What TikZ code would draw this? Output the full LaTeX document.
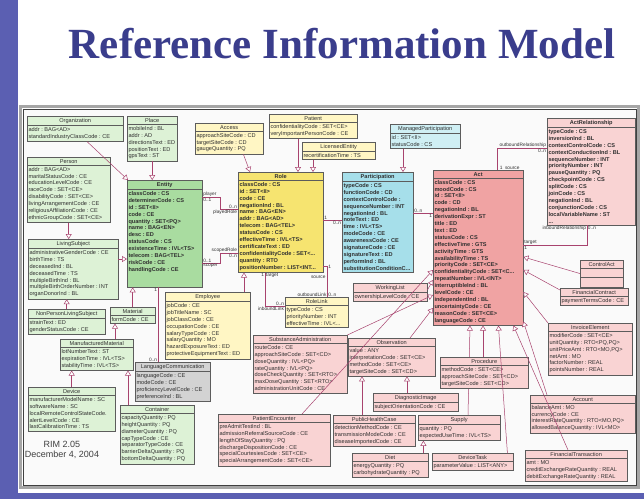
\documentclass[tikz,border=0pt]{standalone}
\usepackage{fontspec}
\setmainfont{Liberation Sans}
\newfontfamily\titlefont{Liberation Serif}
\usetikzlibrary{shapes.multipart,arrows.meta}
\pgfdeclarelayer{background}
\pgfsetlayers{background,main}

\definecolor{titleblue}{HTML}{3A3D8C}
\definecolor{barblue}{HTML}{5B5FB2}
\definecolor{boxline}{HTML}{5C5C5C}
\definecolor{txt}{HTML}{303030}
\definecolor{linkc}{HTML}{A8436E}
\definecolor{entfill}{HTML}{DDF2D6}
\definecolor{entdark}{HTML}{A9DCA0}
\definecolor{rolefill}{HTML}{FFF6C4}
\definecolor{roledark}{HTML}{F6E470}
\definecolor{partfill}{HTML}{CFEFF4}
\definecolor{partdark}{HTML}{A6DFEA}
\definecolor{actfill}{HTML}{F9D3D3}
\definecolor{actdark}{HTML}{F0A3A3}
\definecolor{greyfill}{HTML}{D3D3D3}

\tikzset{
  cls/.style={rectangle split, rectangle split parts=2,
    rectangle split part align={center,left}, draw=boxline, line width=0.4pt,
    anchor=north west, align=left, inner xsep=1.3pt, inner ysep=1.8pt,
    minimum width=#1, font=\fontsize{5.6}{6.9}\selectfont, text=txt},
  ent/.style={cls=#1, fill=entfill},
  rol/.style={cls=#1, fill=rolefill},
  prt/.style={cls=#1, fill=partfill},
  act/.style={cls=#1, fill=actfill},
  core/.style={font=\fontsize{5.6}{6.9}\selectfont\bfseries},
  assoc/.style={draw=linkc, line width=0.5pt},
  gen/.style={draw=linkc, line width=0.5pt, -{Triangle[length=5pt, width=6pt, fill=white]}},
  mult/.style={font=\fontsize{4.8}{5}\selectfont, inner sep=0.7pt, text=txt}
}

\begin{document}
\begin{tikzpicture}[x=1pt,y=-1pt]
\useasboundingbox (0,0) rectangle (644,499);

\begin{pgfonlayer}{background}
\fill[white] (0,0) rectangle (644,499);
\fill[barblue] (0,0) rectangle (18,499);
\fill[barblue] (0,493) rectangle (644,499);
\draw[line width=2.5pt, black!35] (20.5,106.5) rectangle (638.5,487.5);
\draw[line width=0.9pt, black!75, fill=black!2] (23,109) rectangle (636,485);
\end{pgfonlayer}

\node[font=\titlefont\bfseries\fontsize{43}{46}\selectfont, text=titleblue] (title) at (342,44) {Reference Information Model};

% entity side
\node[ent=96] (organization) at (27,116) {Organization\nodepart{two}addr~:~BAG<AD>\\standardIndustryClassCode~:~CE};
\node[ent=50] (place) at (127,116) {Place\nodepart{two}mobileInd~:~BL\\addr~:~AD\\directionsText~:~ED\\positionText~:~ED\\gpsText~:~ST};
\node[ent=83] (person) at (27,157) {Person\nodepart{two}addr~:~BAG<AD>\\maritalStatusCode~:~CE\\educationLevelCode~:~CE\\raceCode~:~SET<CE>\\disabilityCode~:~SET<CE>\\livingArrangementCode~:~CE\\religiousAffiliationCode~:~CE\\ethnicGroupCode~:~SET<CE>};
\node[ent=75, fill=entdark, core] (entity) at (127,180) {Entity\nodepart{two}classCode~:~CS\\determinerCode~:~CS\\id~:~SET<II>\\code~:~CE\\quantity~:~SET<PQ>\\name~:~BAG<EN>\\desc~:~ED\\statusCode~:~CS\\existenceTime~:~IVL<TS>\\telecom~:~BAG<TEL>\\riskCode~:~CE\\handlingCode~:~CE\\~\\~};
\node[ent=90] (livsubj) at (28,239) {LivingSubject\nodepart{two}administrativeGenderCode~:~CE\\birthTime~:~TS\\deceasedInd~:~BL\\deceasedTime~:~TS\\multipleBirthInd~:~BL\\multipleBirthOrderNumber~:~INT\\organDonorInd~:~BL};
\node[ent=77] (nonperson) at (28,309) {NonPersonLivingSubject\nodepart{two}strainText~:~ED\\genderStatusCode~:~CE};
\node[ent=45] (material) at (110,307) {Material\nodepart{two}formCode~:~CE};
\node[ent=73] (manufactured) at (60,339) {ManufacturedMaterial\nodepart{two}lotNumberText~:~ST\\expirationTime~:~IVL<TS>\\stabilityTime~:~IVL<TS>};
\node[ent=87] (device) at (28,387) {Device\nodepart{two}manufacturerModelName~:~SC\\softwareName~:~SC\\localRemoteControlStateCode.\\alertLevelCode~:~CE\\lastCalibrationTime~:~TS};
\node[ent=74] (container) at (120,405) {Container\nodepart{two}capacityQuantity~:~PQ\\heightQuantity~:~PQ\\diameterQuantity~:~PQ\\capTypeCode~:~CE\\separatorTypeCode~:~CE\\barrierDeltaQuantity~:~PQ\\bottomDeltaQuantity~:~PQ};
\node[cls=75, fill=greyfill] (langcomm) at (135,362) {LanguageCommunication\nodepart{two}languageCode~:~CE\\modeCode~:~CE\\proficiencyLevelCode~:~CE\\preferenceInd~:~BL};

% role side
\node[rol=68] (access) at (195,123) {Access\nodepart{two}approachSiteCode~:~CD\\targetSiteCode~:~CD\\gaugeQuantity~:~PQ};
\node[rol=88] (patient) at (269,114) {Patient\nodepart{two}confidentialityCode~:~SET<CE>\\veryImportantPersonCode~:~CE};
\node[rol=73] (licensed) at (302,142) {LicensedEntity\nodepart{two}recertificationTime~:~TS};
\node[rol=85, fill=roledark, core] (role) at (238,172) {Role\nodepart{two}classCode~:~CS\\id~:~SET<II>\\code~:~CE\\negationInd~:~BL\\name~:~BAG<EN>\\addr~:~BAG<AD>\\telecom~:~BAG<TEL>\\statusCode~:~CS\\effectiveTime~:~IVL<TS>\\certificateText~:~ED\\confidentialityCode~:~SET<...\\quantity~:~RTO\\positionNumber~:~LIST<INT...};
\node[rol=85] (employee) at (165,292) {Employee\nodepart{two}jobCode~:~CE\\jobTitleName~:~SC\\jobClassCode~:~CE\\occupationCode~:~CE\\salaryTypeCode~:~CE\\salaryQuantity~:~MO\\hazardExposureText~:~ED\\protectiveEquipmentText~:~ED};
\node[rol=63] (rolelink) at (285,297) {RoleLink\nodepart{two}typeCode~:~CS\\priorityNumber~:~INT\\effectiveTime~:~IVL<...};

% participation
\node[prt=70] (managedpart) at (390,124) {ManagedParticipation\nodepart{two}id~:~SET<II>\\statusCode~:~CS};
\node[prt=71, fill=partdark, core] (participation) at (342,172) {Participation\nodepart{two}typeCode~:~CS\\functionCode~:~CD\\contextControlCode~:\\sequenceNumber~:~INT\\negationInd~:~BL\\noteText~:~ED\\time~:~IVL<TS>\\modeCode~:~CE\\awarenessCode~:~CE\\signatureCode~:~CE\\signatureText~:~ED\\performInd~:~BL\\substitutionConditionC...};

% act side
\node[act=90, fill=actdark, core] (act) at (433,170) {Act\nodepart{two}classCode~:~CS\\moodCode~:~CS\\id~:~SET<II>\\code~:~CD\\negationInd~:~BL\\derivationExpr~:~ST\\title~:~ED\\text~:~ED\\statusCode~:~CS\\effectiveTime~:~GTS\\activityTime~:~GTS\\availabilityTime~:~TS\\priorityCode~:~SET<CE>\\confidentialityCode~:~SET<C...\\repeatNumber~:~IVL<INT>\\interruptibleInd~:~BL\\levelCode~:~CE\\independentInd~:~BL\\uncertaintyCode~:~CE\\reasonCode~:~SET<CE>\\languageCode~:~CE};
\node[act=88, core] (actrel) at (547,118) {ActRelationship\nodepart{two}typeCode~:~CS\\inversionInd~:~BL\\contextControlCode~:~CS\\contextConductionInd~:~BL\\sequenceNumber~:~INT\\priorityNumber~:~INT\\pauseQuantity~:~PQ\\checkpointCode~:~CS\\splitCode~:~CS\\joinCode~:~CS\\negationInd~:~BL\\conjunctionCode~:~CS\\localVariableName~:~ST\\...};
\node[act=74] (workinglist) at (353,283) {WorkingList\nodepart{two}ownershipLevelCode~:~CE};
\node[act=43, rectangle split parts=3] (controlact) at (580,260) {ControlAct\nodepart{two}\nodepart{three}};
\node[act=68] (fincontract) at (560,288) {FinancialContract\nodepart{two}paymentTermsCode~:~CE};
\node[act=84] (invoice) at (548,323) {InvoiceElement\nodepart{two}modifierCode~:~SET<CE>\\unitQuantity~:~RTO<PQ,PQ>\\unitPriceAmt~:~RTO<MO,PQ>\\netAmt~:~MO\\factorNumber~:~REAL\\pointsNumber~:~REAL};
\node[act=105] (account) at (530,395) {Account\nodepart{two}balanceAmt~:~MO\\currencyCode~:~CE\\interestRateQuantity~:~RTO<MO,PQ>\\allowedBalanceQuantity~:~IVL<MO>};
\node[act=102] (fintrans) at (525,450) {FinancialTransaction\nodepart{two}amt~:~MO\\creditExchangeRateQuantity~:~REAL\\debitExchangeRateQuantity~:~REAL};
\node[act=94] (subadmin) at (253,335) {SubstanceAdministration\nodepart{two}routeCode~:~CE\\approachSiteCode~:~SET<CD>\\doseQuantity~:~IVL<PQ>\\rateQuantity~:~IVL<PQ>\\doseCheckQuantity~:~SET<RTO>\\maxDoseQuantity~:~SET<RTO>\\administrationUnitCode~:~CE};
\node[act=87] (observation) at (348,338) {Observation\nodepart{two}value~:~ANY\\interpretationCode~:~SET<CE>\\methodCode~:~SET<CE>\\targetSiteCode~:~SET<CD>};
\node[act=88] (procedure) at (440,357) {Procedure\nodepart{two}methodCode~:~SET<CE>\\approachSiteCode~:~SET<CD>\\targetSiteCode~:~SET<CD>};
\node[act=85] (diagimage) at (373,393) {DiagnosticImage\nodepart{two}subjectOrientationCode~:~CE};
\node[act=82] (publichealth) at (333,415) {PublicHealthCase\nodepart{two}detectionMethodCode~:~CE\\transmissionModeCode~:~CE\\diseaseImportedCode~:~CE};
\node[act=82] (supply) at (418,415) {Supply\nodepart{two}quantity~:~PQ\\expectedUseTime~:~IVL<TS>};
\node[act=76] (diet) at (352,453) {Diet\nodepart{two}energyQuantity~:~PQ\\carbohydrateQuantity~:~PQ};
\node[act=81] (devicetask) at (432,453) {DeviceTask\nodepart{two}parameterValue~:~LIST<ANY>};
\node[act=112] (encounter) at (218,414) {PatientEncounter\nodepart{two}preAdmitTestInd~:~BL\\admissionReferralSourceCode~:~CE\\lengthOfStayQuantity~:~PQ\\dischargeDispositionCode~:~CE\\specialCourtesiesCode~:~SET<CE>\\specialArrangementCode~:~SET<CE>};

\node[font=\fontsize{9}{10.5}\selectfont, text=black!75, align=center] (version) at (62,450) {RIM 2.05\\December 4, 2004};

% generalizations, entity side
\draw[gen] ([xshift=12pt]organization.south) -- ([xshift=1pt]entity.north west);
\draw[gen] (place.south) -- (place.south |- entity.north);
\draw[gen] (person.south) -- (person.south |- livsubj.north);
\draw[gen] ([yshift=-20pt]livsubj.north east) -- ([yshift=-20pt]livsubj.north east -| entity.west);
\draw[gen] (nonperson.north) -- (nonperson.north |- livsubj.south);
\draw[gen] (material.north) -- (material.north |- entity.south);
\draw[gen] ([xshift=5pt]material.south west |- manufactured.north) -- ([xshift=5pt]material.south west);
\draw[gen] (device.north) -- (device.north |- manufactured.south);
\draw[gen] ([xshift=8pt]container.north west) -- ([xshift=8pt]container.north west |- manufactured.south);

% generalizations, role side
\draw[gen] ([xshift=-20pt]access.south east) -- ([xshift=12pt]role.north west);
\draw[gen] ([xshift=29pt]patient.south west) -- ([xshift=29pt]patient.south west |- role.north);
\draw[gen] ([xshift=11pt]licensed.south west) -- ([xshift=11pt]licensed.south west |- role.north);
\draw[gen] ([xshift=79pt]employee.north west) -- ([xshift=79pt]employee.north west |- role.south);
\draw[gen] ([xshift=13pt]managedpart.south west) -- ([xshift=13pt]managedpart.south west |- participation.north);

% generalizations, act side
\draw[gen] (controlact.west) -- ([yshift=-87pt]act.north east);
\draw[gen] ([yshift=-2pt]fincontract.north west) -- ([yshift=-100pt]act.north east);
\draw[gen] (invoice.north west) -- ([yshift=-122pt]act.north east);
\draw[gen] ([xshift=17pt]account.north west) -- ([yshift=4pt]act.south east);
\draw[gen] ([xshift=43pt]fintrans.north west) -- ([xshift=-10pt]act.south east);
\draw[gen] ([xshift=-6pt]devicetask.north east) -- ([xshift=-25pt]act.south east);
\draw[gen] ([xshift=43pt]procedure.north west) -- ([xshift=43pt]procedure.north west |- act.south);
\begin{pgfonlayer}{background}
\draw[gen] ([xshift=50pt]supply.north west) -- ([xshift=37pt]act.south west);
\end{pgfonlayer}
\draw[gen] ([xshift=62pt]observation.north west) -- ([yshift=-138pt]act.north west);
\draw[gen] (subadmin.north east) -- ([yshift=-125pt]act.north west);
\draw[gen] ([yshift=-7pt]workinglist.north east) -- ([yshift=-110pt]act.north west);
\draw[gen] ([xshift=84pt]encounter.north west) -- ([yshift=-100pt]act.north west);
\draw[gen] ([xshift=34pt]diagimage.north west) -- ([xshift=34pt]diagimage.north west |- observation.south);
\draw[gen] ([xshift=29pt]publichealth.north west) -- ([xshift=29pt]publichealth.north west |- observation.south);
\draw[gen] ([xshift=-5pt]diet.north east) -- ([xshift=-5pt]diet.north east |- supply.south);

% associations
\draw[assoc] ([yshift=-17pt]entity.north east) node[mult, anchor=south west] {player} node[mult, anchor=north west] {0..1}
  -- ++(18,0) |- ([yshift=-37pt]role.north west) node[mult, anchor=south east] {0..n} node[mult, anchor=north east] {playedRole};
\draw[assoc] ([yshift=-83pt]entity.north east) node[mult, anchor=south west] {0..1} node[mult, anchor=north west] {scoper}
  -- ++(18,0) |- ([yshift=-81pt]role.north west) node[mult, anchor=south east] {scopedRole} node[mult, anchor=north east] {0..n};
\draw[assoc] ([xshift=31pt]entity.south west) node[mult, anchor=north east] {1}
  -- ([xshift=31pt]entity.south west |- langcomm.north) node[mult, anchor=south east] {0..n};
\draw[assoc] ([yshift=-48pt]role.north east) node[mult, anchor=south west] {1}
  -- ([yshift=-48pt]role.north east -| participation.west) node[mult, anchor=north east] {0..n};
\draw[assoc] ([yshift=-41pt]participation.north east) node[mult, anchor=south west] {0..n}
  -- ([yshift=-41pt]participation.north east -| act.west) node[mult, anchor=north east] {1};
\draw[assoc] ([xshift=27pt]role.south west) node[mult, anchor=north east] {1} node[mult, anchor=north west] {target}
  |- ([yshift=-9pt]rolelink.north west) node[mult, anchor=south east] {0..n} node[mult, anchor=north east] {inboundLink};
\draw[assoc] ([yshift=6pt]role.south east) node[mult, anchor=west, xshift=4pt] {1}
  -| ([xshift=-21pt]rolelink.north east) node[mult, anchor=south west] {0..n} node[mult, anchor=south east] {outboundLink};
\node[mult, anchor=north east] (sourcelbl) at ([xshift=3pt,yshift=-2pt]role.south east) {source};
\draw[assoc] ([xshift=64pt]act.north west) node[mult, anchor=south west, xshift=2pt] {1\enspace source}
  |- ([yshift=-30pt]actrel.north west) node[mult, anchor=south east] {outboundRelationship} node[mult, anchor=north east] {0..n};
\draw[assoc] ([xshift=40pt]actrel.south west) node[mult, anchor=north east] {inboundRelationship} node[mult, anchor=north west] {0..n}
  |- ([yshift=-75pt]act.north east) node[mult, anchor=south west] {target} node[mult, anchor=north west] {1};

\end{tikzpicture}
\end{document}
